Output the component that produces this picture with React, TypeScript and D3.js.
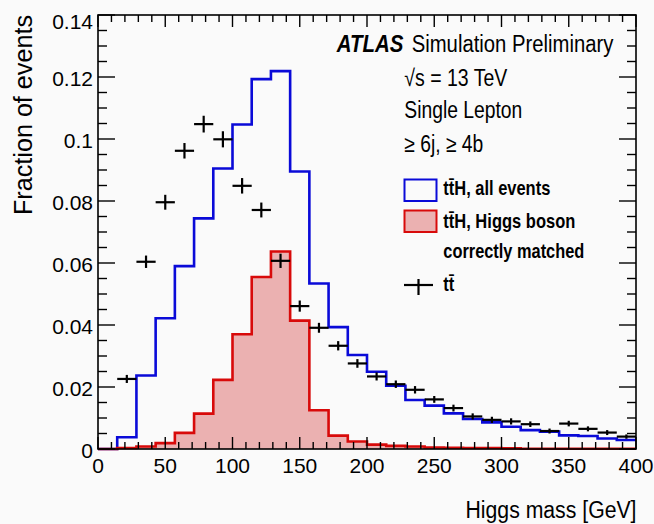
import React from 'react';
import * as d3 from 'd3';

// 28 bins between 0 and 400 GeV
const xMin = 0;
const xMax = 400;
const nBins = 28;

// ttH, all events (blue outline)
const ttHAll = [0, 0.0038, 0.0237, 0.0422, 0.059, 0.0744, 0.0905, 0.1047, 0.1193, 0.1219,
    0.0895, 0.0534, 0.0393, 0.0303, 0.0249, 0.0204, 0.0158, 0.014, 0.0115, 0.0097,
    0.0086, 0.0072, 0.0061, 0.0056, 0.0044, 0.0042, 0.0034, 0.0029];

// ttH, Higgs boson correctly matched (red filled)
const ttHMatched = [0, 0.0003, 0.0008, 0.0019, 0.0052, 0.0114, 0.0223, 0.037, 0.0555, 0.0637,
    0.0414, 0.0125, 0.0043, 0.0024, 0.0014, 0.001, 0.0008, 0.0005, 0.0004, 0.0003,
    0.0003, 0.0002, 0.0001, 0.0001, 0.0001, 0.0001, 0.0001, 0.0001];

// ttbar (black crosses) and their vertical errors
const ttbar = [null, 0.0226, 0.0604, 0.0796, 0.0962, 0.1048, 0.0999, 0.0849, 0.0771, 0.0607,
    0.0461, 0.0391, 0.0333, 0.0276, 0.0234, 0.0209, 0.0191, 0.016, 0.0132, 0.0105,
    0.0094, 0.0089, 0.008, 0.0058, 0.0082, 0.0065, 0.0053, 0.004];
const ttbarErr = [0, 0.0013, 0.002, 0.0024, 0.0025, 0.0027, 0.0026, 0.0025, 0.0024, 0.0023,
    0.0018, 0.0016, 0.0015, 0.0014, 0.0013, 0.0012, 0.0012, 0.0011, 0.0011, 0.001,
    0.001, 0.001, 0.0009, 0.0008, 0.0009, 0.0008, 0.0008, 0.0007];

const yMax = 0.14;

const font = '"Liberation Sans", Arial, Helvetica, sans-serif';
const blue = '#0a0ad8';
const red = '#d80a0a';
const pink = '#ebb1b1';

const L = 98, R = 636, T = 15, B = 449;

export default function App() {
    const x = d3.scaleLinear().domain([xMin, xMax]).range([L, R]);
    const y = d3.scaleLinear().domain([0, yMax]).range([B, T]);
    const bw = (xMax - xMin) / nBins;
    const edges = d3.range(nBins).map(i => xMin + i * bw);

    const stepPts = (vals: number[]) => [
        ...vals.map((v, i) => [edges[i], v] as [number, number]),
        [xMax, vals[vals.length - 1]] as [number, number],
    ];

    const line = d3.line<[number, number]>()
        .x(d => x(d[0])).y(d => y(d[1]))
        .curve(d3.curveStepAfter);
    const area = d3.area<[number, number]>()
        .x(d => x(d[0])).y0(y(0)).y1(d => y(d[1]))
        .curve(d3.curveStepAfter);

    const yMajor = y.ticks(7);
    const yMinor = y.ticks(28);
    const xMajor = x.ticks(8);
    const xMinor = x.ticks(40);
    const fmt = (v: number) => String(+v.toFixed(2));

    return (
        <svg width={654} height={524} style={{ position: 'absolute', left: 0, top: 0, background: '#fafafa' }}
            fontFamily={font}>
            {/* histograms */}
            <path d={area(stepPts(ttHMatched))!} fill={pink} stroke="none" />
            <path d={line(stepPts(ttHAll))!} fill="none" stroke={blue} strokeWidth={2.6} />
            <path d={line(stepPts(ttHMatched))!} fill="none" stroke={red} strokeWidth={2.6} />

            {/* ttbar crosses */}
            <g stroke="#000" strokeWidth={2.2}>
                {ttbar.map((v, i) => v == null ? null : (
                    <g key={i}>
                        <line x1={x(edges[i])} x2={x(edges[i] + bw)} y1={y(v)} y2={y(v)} />
                        <line x1={x(edges[i] + bw / 2)} x2={x(edges[i] + bw / 2)}
                            y1={y(v - ttbarErr[i])} y2={y(v + ttbarErr[i])} />
                    </g>
                ))}
            </g>

            {/* frame and ticks */}
            <rect x={L} y={T} width={R - L} height={B - T} fill="none" stroke="#000" strokeWidth={1.6} />
            <g stroke="#000" strokeWidth={1.4}>
                {yMinor.map(v => {
                    const major = yMajor.some(m => Math.abs(m - v) < 1e-9);
                    const len = major ? 17 : 9;
                    return (
                        <g key={'y' + v}>
                            <line x1={L} x2={L + len} y1={y(v)} y2={y(v)} />
                            <line x1={R} x2={R - len} y1={y(v)} y2={y(v)} />
                        </g>
                    );
                })}
                {xMinor.map(v => {
                    const major = xMajor.includes(v);
                    const len = major ? 12 : 7;
                    return (
                        <g key={'x' + v}>
                            <line x1={x(v)} x2={x(v)} y1={B} y2={B - len} />
                            <line x1={x(v)} x2={x(v)} y1={T} y2={T + len} />
                        </g>
                    );
                })}
            </g>

            {/* tick labels */}
            <g fontSize={21} fill="#000">
                {yMajor.map(v => (
                    <text key={'yl' + v} x={93} y={y(v) + (v === yMax ? 6 : 1)} textAnchor="end"
                        dominantBaseline="central">{fmt(v)}</text>
                ))}
                {xMajor.map(v => (
                    <text key={'xl' + v} x={x(v)} y={473} textAnchor="middle">{v}</text>
                ))}
            </g>

            {/* axis titles */}
            <text transform={`translate(32,15) rotate(-90)`} textAnchor="end" fontSize={25}
                textLength={200} lengthAdjust="spacingAndGlyphs">Fraction of events</text>
            <text x={636.5} y={517.5} textAnchor="end" fontSize={23.5}
                textLength={171} lengthAdjust="spacingAndGlyphs">Higgs mass [GeV]</text>

            {/* ATLAS labels */}
            <text x={336.7} y={51.7} fontSize={23.5} fontWeight="bold" fontStyle="italic"
                textLength={66.7} lengthAdjust="spacingAndGlyphs">ATLAS</text>
            <text x={411.7} y={51.7} fontSize={23.5}
                textLength={201.7} lengthAdjust="spacingAndGlyphs">Simulation Preliminary</text>
            <text x={404.3} y={85.5} fontSize={23.5}
                textLength={103} lengthAdjust="spacingAndGlyphs">√s = 13 TeV</text>
            <text x={404.3} y={118.3} fontSize={23.5}
                textLength={118} lengthAdjust="spacingAndGlyphs">Single Lepton</text>
            <text x={404.3} y={152} fontSize={23.5}
                textLength={79} lengthAdjust="spacingAndGlyphs">≥ 6j, ≥ 4b</text>

            {/* legend */}
            <rect x={404.5} y={179.5} width={32} height={21.5} fill="none" stroke={blue} strokeWidth={2} />
            <rect x={404.5} y={210.5} width={32} height={21.5} fill={pink} stroke={red} strokeWidth={2} />
            <line x1={404} x2={433} y1={285} y2={285} stroke="#000" strokeWidth={2.2} />
            <line x1={418.5} x2={418.5} y1={279} y2={295} stroke="#000" strokeWidth={2.2} />
            <g fontSize={20.5} fontWeight="bold">
                <text x={443.3} y={195} textLength={107} lengthAdjust="spacingAndGlyphs">tt̄H, all events</text>
                <text x={443.3} y={227.5} textLength={132} lengthAdjust="spacingAndGlyphs">tt̄H, Higgs boson</text>
                <text x={443.3} y={258.3} textLength={141} lengthAdjust="spacingAndGlyphs">correctly matched</text>
                <text x={443.3} y={290.5} textLength={11} lengthAdjust="spacingAndGlyphs">tt̄</text>
            </g>
        </svg>
    );
}
